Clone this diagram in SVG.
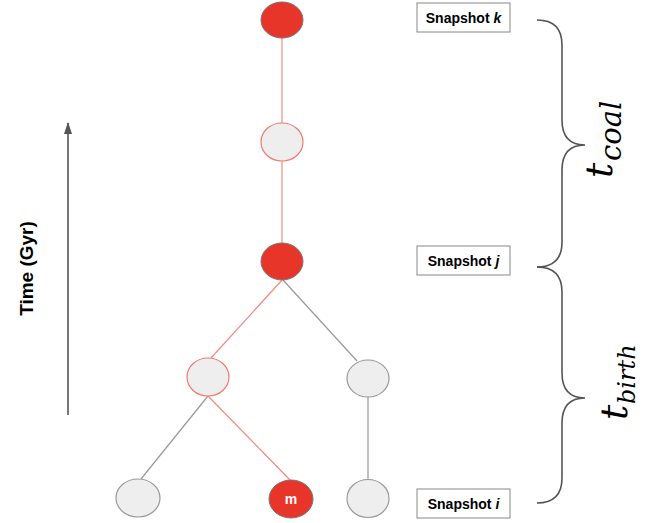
<svg xmlns="http://www.w3.org/2000/svg" width="652" height="523" viewBox="0 0 652 523">
<style>
.red{fill:#e8352a;stroke:#777;stroke-width:1}
.gry{fill:#eeeeee;stroke:#999;stroke-width:1.2}
.gryr{fill:#eeeeee;stroke:#ef7a70;stroke-width:1.2}
.er{stroke:#f28b82;stroke-width:1.2;fill:none}
.eg{stroke:#999;stroke-width:1.2;fill:none}
.box{fill:#fff;stroke:#888;stroke-width:1}
.lbl{font-family:"Liberation Sans",Arial,sans-serif;font-weight:bold;font-size:14px;fill:#000}
.br{fill:none;stroke:#555;stroke-width:1.6}
.math{font-family:"DejaVu Serif","Liberation Serif",serif;font-style:italic;fill:#000}
</style>
<defs>
<marker id="ah" markerWidth="12" markerHeight="8" refX="11" refY="4" orient="auto" markerUnits="userSpaceOnUse" viewBox="0 0 12 8">
<path d="M0,0 L12,4 L0,8 Z" fill="#555"/>
</marker>
</defs>
<g id="connectors">
<line class="er" x1="282" y1="38" x2="282" y2="123"/>
<line class="er" x1="282" y1="161" x2="282" y2="243"/>
<line class="er" x1="282" y1="280" x2="211" y2="358"/>
<line class="eg" x1="283" y1="280" x2="357" y2="361"/>
<line class="eg" x1="208" y1="396" x2="141" y2="479"/>
<line class="er" x1="208" y1="396" x2="290" y2="480"/>
<line class="eg" x1="368" y1="397" x2="368" y2="479"/>
</g>
<g id="node-k"><ellipse class="red" cx="282" cy="20" rx="21" ry="18"/></g>
<g id="node-k1"><ellipse class="gryr" cx="282" cy="142" rx="21" ry="19"/></g>
<g id="node-j"><ellipse class="red" cx="282" cy="261.5" rx="21" ry="18.5"/></g>
<g id="node-a"><ellipse class="gryr" cx="208" cy="377" rx="21" ry="19"/></g>
<g id="node-b"><ellipse class="gry" cx="368" cy="378.5" rx="21" ry="18.5"/></g>
<g id="node-c"><ellipse class="gry" cx="138" cy="498" rx="22" ry="19"/></g>
<g id="node-m"><ellipse class="red" cx="291" cy="499" rx="22" ry="19"/><text x="291" y="504" text-anchor="middle" font-family="Liberation Sans,Arial,sans-serif" font-weight="bold" font-size="14" fill="#fff">m</text></g>
<g id="node-d"><ellipse class="gry" cx="368" cy="498.5" rx="21" ry="19"/></g>
<g id="snap-k"><rect class="box" x="417" y="3" width="93" height="29"/><text class="lbl" x="463.5" y="22.5" text-anchor="middle">Snapshot <tspan font-style="italic">k</tspan></text></g>
<g id="snap-j"><rect class="box" x="417" y="246" width="93" height="29"/><text class="lbl" x="463.5" y="265.5" text-anchor="middle">Snapshot <tspan font-style="italic">j</tspan></text></g>
<g id="snap-i"><rect class="box" x="417" y="489" width="93" height="29"/><text class="lbl" x="463.5" y="508.5" text-anchor="middle">Snapshot <tspan font-style="italic">i</tspan></text></g>
<g id="time-axis">
<line x1="68" y1="415" x2="68" y2="123" stroke="#555" stroke-width="1.6" marker-end="url(#ah)"/>
<text transform="translate(33,268.5) rotate(-90)" text-anchor="middle" font-family="Liberation Sans,Arial,sans-serif" font-weight="bold" font-size="19" fill="#000">Time (Gyr)</text>
</g>
<g id="brace-coal">
<path class="br" d="M537,20 Q562,20 562,45 L562,120 Q562,145 585,145 Q562,145 562,170 L562,242 Q562,267 537,267"/>
<text class="math" font-size="38" transform="translate(612,178) rotate(-90)">t</text>
<text class="math" font-size="29" transform="translate(621,161) rotate(-90)">coal</text>
</g>
<g id="brace-birth">
<path class="br" d="M537,267 Q562,267 562,292 L562,373 Q562,398 585,398 Q562,398 562,423 L562,478 Q562,503 537,503"/>
<text class="math" font-size="38" transform="translate(627,420) rotate(-90)">t</text>
<text class="math" font-size="24" transform="translate(635,404) rotate(-90)">birth</text>
</g>
</svg>
